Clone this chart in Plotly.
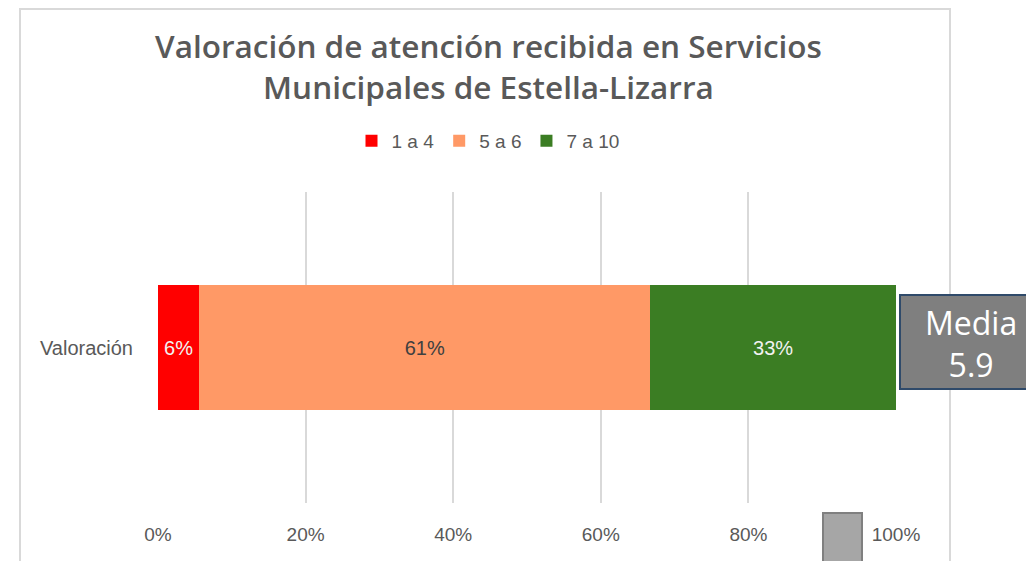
import plotly.graph_objects as go

categories = ["Valoración"]
series_names = ["1 a 4", "5 a 6", "7 a 10"]
series_values = [[5.6], [61.1], [33.3]]
series_colors = ["#FF0000", "#FF9966", "#3B7D23"]
label_colors = ["#F2F2F2", "#404040", "#F2F2F2"]
tick_vals = [0, 20, 40, 60, 80, 100]
tick_text = ["0%", "20%", "40%", "60%", "80%", "100%"]
media_text = "Media<br>5.9"
title_text = "Valoración de atención recibida en Servicios<br>Municipales de Estella-Lizarra"

# page body has an 8px margin; work in reference-screen pixels and offset
OFF = 8
W, H = 1034 - OFF, 561 - OFF
PL, PR, PT, PB = 158, 896, 192, 503   # plot area in screen pixels
L, R, T = PL - OFF, W - (PR - OFF), PT - OFF
B = H - (PB - OFF)
PW, PH = W - L - R, H - T - B


def px(x):
    return (x - OFF - L) / PW


def py(y):
    return (H - B - (y - OFF)) / PH


FONT = "Liberation Sans"

fig = go.Figure()
for name, vals, col, lc in zip(series_names, series_values, series_colors, label_colors):
    fig.add_trace(go.Bar(
        y=categories, x=vals, name=name, orientation="h",
        marker=dict(color=col, line=dict(width=0)),
        text=[f"{round(v)}%" for v in vals], textposition="inside",
        insidetextanchor="middle", constraintext="none",
        textfont=dict(color=lc, size=20, family=FONT),
        hoverinfo="skip",
    ))

fig.update_layout(
    width=W, height=H,
    barmode="stack", bargap=0.6,
    margin=dict(l=L, r=R, t=T, b=B),
    paper_bgcolor="white", plot_bgcolor="white",
    showlegend=True,
    legend=dict(orientation="h", x=px(488), xanchor="center", y=py(141), yanchor="middle",
                font=dict(size=19, color="#595959", family=FONT),
                itemwidth=30, traceorder="normal"),
    xaxis=dict(range=[0, 100], tickvals=tick_vals, ticktext=tick_text,
               showgrid=True, gridcolor="#D9D9D9", gridwidth=2, zeroline=False,
               showline=False, ticks="outside", ticklen=14, tickcolor="rgba(0,0,0,0)",
               tickfont=dict(size=19, color="#595959", family=FONT)),
    yaxis=dict(showgrid=False, showline=False, zeroline=False,
               ticks="outside", ticklen=20, tickcolor="rgba(0,0,0,0)",
               tickfont=dict(size=20, color="#595959", family=FONT)),
    font=dict(family=FONT),
)

# chart border
fig.add_shape(type="rect", xref="paper", yref="paper",
              x0=px(20), x1=px(950), y0=py(575), y1=py(9),
              line=dict(color="#D9D9D9", width=2), fillcolor="rgba(0,0,0,0)", layer="below")

# title
fig.add_annotation(xref="paper", yref="paper", x=px(488), y=py(66), xanchor="center", yanchor="middle",
                   text=title_text, showarrow=False,
                   font=dict(size=31.5, color="#595959", family="Open Sans", weight=600))

# Media box
fig.add_shape(type="rect", xref="paper", yref="paper",
              x0=px(900), x1=px(1040), y0=py(389), y1=py(295),
              line=dict(color="#2F4A6A", width=2), fillcolor="#7F7F7F")
fig.add_annotation(xref="paper", yref="paper", x=px(971), y=py(343), xanchor="center", yanchor="middle",
                   text=media_text, showarrow=False,
                   font=dict(size=32, color="white", family="Open Sans"))

# small grey rectangle near 100%
fig.add_shape(type="rect", xref="paper", yref="paper",
              x0=px(823), x1=px(862), y0=py(570), y1=py(513),
              line=dict(color="#808080", width=2), fillcolor="#A6A6A6")

fig.write_html("out.html")
